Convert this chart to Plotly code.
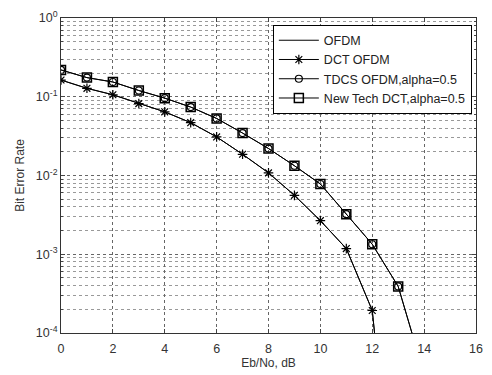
import plotly.graph_objects as go

# Eb/No values (dB)
ebno_low = [0, 1, 2, 3, 4, 5, 6, 7, 8, 9, 10, 11, 12, 13]
ebno_high = [0, 1, 2, 3, 4, 5, 6, 7, 8, 9, 10, 11, 12, 13, 14]

# BER curves
ber_ofdm = [0.163, 0.128, 0.106, 0.0818, 0.0643, 0.0469, 0.0309, 0.0186,
            0.0108, 0.0056, 0.00267, 0.00118, 1.93e-4, 1.2e-7]
ber_dct_ofdm = [0.163, 0.128, 0.106, 0.0818, 0.0643, 0.0469, 0.0309, 0.0186,
                0.0108, 0.0056, 0.00267, 0.00118, 1.93e-4, 1.2e-7]
ber_tdcs = [0.219, 0.175, 0.154, 0.12, 0.096, 0.074, 0.053, 0.0346,
            0.022, 0.0133, 0.0078, 0.00323, 0.00134, 3.9e-4, 3.0e-5]
ber_newtech = [0.219, 0.175, 0.154, 0.12, 0.096, 0.074, 0.053, 0.0346,
               0.022, 0.0133, 0.0078, 0.00323, 0.00134, 3.9e-4, 3.0e-5]

y_tick_vals = [1e-4, 1e-3, 1e-2, 1e-1, 1e0]
y_tick_text = ["10<sup>-4</sup>", "10<sup>-3</sup>", "10<sup>-2</sup>",
               "10<sup>-1</sup>", "10<sup>0</sup>"]
x_tick_vals = [0, 2, 4, 6, 8, 10, 12, 14, 16]

minor_y = [k * 10.0 ** e for e in range(-4, 0) for k in range(2, 10)]

line_style = dict(color="black", width=1)

fig = go.Figure()
fig.add_trace(go.Scatter(x=ebno_low, y=ber_ofdm, mode="lines", name="OFDM",
                         line=line_style))
fig.add_trace(go.Scatter(x=ebno_low, y=ber_dct_ofdm, mode="lines+markers",
                         name="DCT OFDM", line=line_style,
                         marker=dict(symbol="asterisk-open", size=8,
                                     color="black", line=dict(width=1.2, color="black"))))
fig.add_trace(go.Scatter(x=ebno_high, y=ber_tdcs, mode="lines+markers",
                         name="TDCS OFDM,alpha=0.5", line=line_style,
                         marker=dict(symbol="circle-open", size=7,
                                     color="black", line=dict(width=1.2, color="black"))))
fig.add_trace(go.Scatter(x=ebno_high, y=ber_newtech, mode="lines+markers",
                         name="New Tech DCT,alpha=0.5", line=line_style,
                         marker=dict(symbol="square-open", size=9,
                                     color="black", line=dict(width=1.5, color="black"))))

text_font = dict(family="Liberation Sans, Arial, sans-serif", size=12.5, color="#333")

fig.update_layout(
    width=492, height=375,
    margin=dict(l=61, r=9, t=16, b=37),
    paper_bgcolor="white", plot_bgcolor="white",
    font=text_font,
    showlegend=True,
    legend=dict(x=0.99, y=0.979, xanchor="right", yanchor="top",
                bgcolor="white", bordercolor="black", borderwidth=1,
                font=dict(family="Liberation Sans, Arial, sans-serif", size=12.5, color="#222"),
                itemwidth=40, tracegroupgap=0),
    xaxis=dict(range=[0, 16], tickvals=x_tick_vals, ticks="inside", ticklen=4,
               ticklabelstandoff=4,
               showline=True, linecolor="#333", linewidth=1, mirror="ticks",
               showgrid=True, gridcolor="#666", griddash="dot", gridwidth=1,
               zeroline=False, title=dict(text="Eb/No, dB", standoff=2,
                                          font=dict(size=12))),
    yaxis=dict(type="log", range=[-4, 0], tickvals=y_tick_vals, ticktext=y_tick_text,
               ticks="inside", ticklen=4,
               showline=True, linecolor="#333", linewidth=1, mirror="ticks",
               showgrid=True, gridcolor="#666", griddash="dot", gridwidth=1,
               minor=dict(tickvals=minor_y, showgrid=True, gridcolor="#999",
                          griddash="dot", gridwidth=1, ticks="inside", ticklen=2),
               zeroline=False, title=dict(text="Bit Error Rate", standoff=8,
                                          font=dict(size=12))),
)

fig.write_html("out.html")
